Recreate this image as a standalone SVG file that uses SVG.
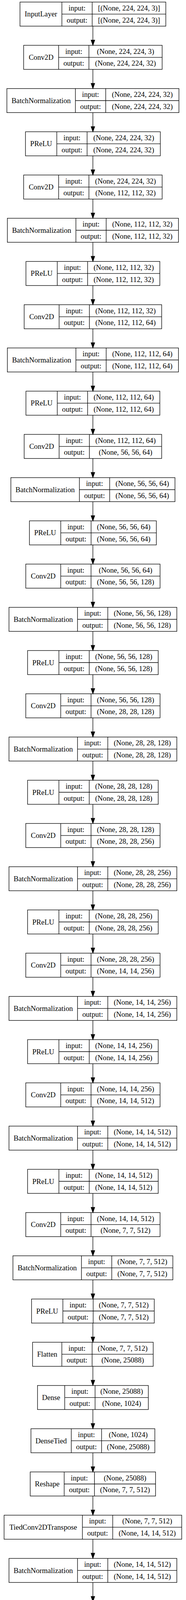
<svg xmlns="http://www.w3.org/2000/svg" width="475" height="7156" viewBox="0 0 475 7156">
<style>
.node rect,.node path{fill:none;stroke:#000;stroke-width:1.33}
text{font-family:"Liberation Serif","Times New Roman",serif;font-size:18.67px;text-anchor:middle;fill:#000}
#edges path{fill:none;stroke:#000;stroke-width:1.33;marker-end:url(#ah)}
</style>
<defs>
<marker id="ah" viewBox="0 0 14 10" refX="0" refY="5" markerWidth="14" markerHeight="10" markerUnits="userSpaceOnUse" orient="auto" overflow="visible"><path d="M0,0.33L13.3,5L0,9.67Z" fill="#000" stroke="#000" stroke-width="1.33"/></marker>
</defs>
<rect width="475" height="7156" fill="#fff"/>
<g id="edges">
<path d="M237.25,66.93V102.70"/><path d="M237.25,177.60V213.37"/><path d="M237.25,288.27V324.04"/><path d="M237.25,398.95V434.72"/>
<path d="M237.25,509.62V545.39"/><path d="M237.25,620.29V656.06"/><path d="M237.25,730.96V766.73"/><path d="M237.25,841.63V877.40"/>
<path d="M237.25,952.31V988.08"/><path d="M237.25,1062.98V1098.75"/><path d="M237.25,1173.65V1209.42"/><path d="M237.25,1284.32V1320.09"/>
<path d="M237.25,1394.99V1430.76"/><path d="M237.25,1505.67V1541.44"/><path d="M237.25,1616.34V1652.11"/><path d="M237.25,1727.01V1762.78"/>
<path d="M237.25,1837.68V1873.45"/><path d="M237.25,1948.35V1984.12"/><path d="M237.25,2059.03V2094.80"/><path d="M237.25,2169.70V2205.47"/>
<path d="M237.25,2280.37V2316.14"/><path d="M237.25,2391.04V2426.81"/><path d="M237.25,2501.71V2537.48"/><path d="M237.25,2612.39V2648.16"/>
<path d="M237.25,2723.06V2758.83"/><path d="M237.25,2833.73V2869.50"/><path d="M237.25,2944.40V2980.17"/><path d="M237.25,3055.07V3090.84"/>
<path d="M237.25,3165.75V3201.52"/><path d="M237.25,3276.42V3312.19"/><path d="M237.25,3387.09V3422.86"/><path d="M237.25,3497.76V3533.53"/>
<path d="M237.25,3608.43V3644.20"/><path d="M237.25,3719.11V3754.88"/><path d="M237.25,3829.78V3865.55"/><path d="M237.25,3940.45V3976.22"/>
<path d="M237.25,4051.12V4086.89"/><path d="M237.25,4161.79V4197.56"/><path d="M237.25,4272.47V4308.24"/><path d="M237.25,4383.14V4418.91"/>
<path d="M237.25,4493.81V4529.58"/><path d="M237.25,4604.48V4640.25"/><path d="M237.25,4715.15V4750.92"/><path d="M237.25,4825.83V4861.60"/>
<path d="M237.25,4936.50V4972.27"/><path d="M237.25,5047.17V5082.94"/><path d="M237.25,5157.84V5193.61"/><path d="M237.25,5268.51V5304.28"/>
<path d="M237.25,5379.19V5414.96"/><path d="M237.25,5489.86V5525.63"/><path d="M237.25,5600.53V5636.30"/><path d="M237.25,5711.20V5746.97"/>
<path d="M237.25,5821.87V5857.64"/><path d="M237.25,5932.55V5968.32"/><path d="M237.25,6043.22V6078.99"/><path d="M237.25,6153.89V6189.66"/>
<path d="M237.25,6264.56V6300.33"/><path d="M237.25,6375.23V6411.00"/><path d="M237.25,6485.91V6521.68"/><path d="M237.25,6596.58V6632.35"/>
<path d="M237.25,6707.25V6743.02"/><path d="M237.25,6817.92V6853.69"/><path d="M237.25,6928.59V6964.36"/><path d="M237.25,7039.27V7075.04"/>
</g>
<g id="n0" class="node" transform="translate(0,5.33)"><rect x="51.05" y="0" width="372.4" height="61.6"/><path d="M158.05,0V61.6M235.45,0V61.6M158.05,30.8H423.45"/><text x="104.55" y="37.1">InputLayer</text><text x="196.75" y="21.6">input:</text><text x="329.45" y="21.6">[(None, 224, 224, 3)]</text><text x="196.75" y="52.3">output:</text><text x="329.45" y="52.3">[(None, 224, 224, 3)]</text></g>
<g id="n1" class="node" transform="translate(0,116.00)"><rect x="60.4" y="0" width="353.7" height="61.6"/><path d="M149.7,0V61.6M227.1,0V61.6M149.7,30.8H414.1"/><text x="105.05" y="37.1">Conv2D</text><text x="188.4" y="21.6">input:</text><text x="320.6" y="21.6">(None, 224, 224, 3)</text><text x="188.4" y="52.3">output:</text><text x="320.6" y="52.3">(None, 224, 224, 32)</text></g>
<g id="n2" class="node" transform="translate(0,226.67)"><rect x="17.55" y="0" width="439.4" height="61.6"/><path d="M192.55,0V61.6M269.95,0V61.6M192.55,30.8H456.95"/><text x="105.05" y="37.1">BatchNormalization</text><text x="231.25" y="21.6">input:</text><text x="363.45" y="21.6">(None, 224, 224, 32)</text><text x="231.25" y="52.3">output:</text><text x="363.45" y="52.3">(None, 224, 224, 32)</text></g>
<g id="n3" class="node" transform="translate(0,337.35)"><rect x="65.05" y="0" width="344.4" height="61.6"/><path d="M145.05,0V61.6M222.45,0V61.6M145.05,30.8H409.45"/><text x="105.05" y="37.1">PReLU</text><text x="183.75" y="21.6">input:</text><text x="315.95" y="21.6">(None, 224, 224, 32)</text><text x="183.75" y="52.3">output:</text><text x="315.95" y="52.3">(None, 224, 224, 32)</text></g>
<g id="n4" class="node" transform="translate(0,448.02)"><rect x="60.4" y="0" width="353.7" height="61.6"/><path d="M149.7,0V61.6M227.1,0V61.6M149.7,30.8H414.1"/><text x="105.05" y="37.1">Conv2D</text><text x="188.4" y="21.6">input:</text><text x="320.6" y="21.6">(None, 224, 224, 32)</text><text x="188.4" y="52.3">output:</text><text x="320.6" y="52.3">(None, 112, 112, 32)</text></g>
<g id="n5" class="node" transform="translate(0,558.69)"><rect x="18.8" y="0" width="436.9" height="61.6"/><path d="M193.8,0V61.6M271.2,0V61.6M193.8,30.8H455.7"/><text x="106.3" y="37.1">BatchNormalization</text><text x="232.5" y="21.6">input:</text><text x="363.45" y="21.6">(None, 112, 112, 32)</text><text x="232.5" y="52.3">output:</text><text x="363.45" y="52.3">(None, 112, 112, 32)</text></g>
<g id="n6" class="node" transform="translate(0,669.36)"><rect x="66.3" y="0" width="341.9" height="61.6"/><path d="M146.3,0V61.6M223.7,0V61.6M146.3,30.8H408.2"/><text x="106.3" y="37.1">PReLU</text><text x="185" y="21.6">input:</text><text x="315.95" y="21.6">(None, 112, 112, 32)</text><text x="185" y="52.3">output:</text><text x="315.95" y="52.3">(None, 112, 112, 32)</text></g>
<g id="n7" class="node" transform="translate(0,780.03)"><rect x="61.65" y="0" width="351.2" height="61.6"/><path d="M150.95,0V61.6M228.35,0V61.6M150.95,30.8H412.85"/><text x="106.3" y="37.1">Conv2D</text><text x="189.65" y="21.6">input:</text><text x="320.6" y="21.6">(None, 112, 112, 32)</text><text x="189.65" y="52.3">output:</text><text x="320.6" y="52.3">(None, 112, 112, 64)</text></g>
<g id="n8" class="node" transform="translate(0,890.71)"><rect x="18.8" y="0" width="436.9" height="61.6"/><path d="M193.8,0V61.6M271.2,0V61.6M193.8,30.8H455.7"/><text x="106.3" y="37.1">BatchNormalization</text><text x="232.5" y="21.6">input:</text><text x="363.45" y="21.6">(None, 112, 112, 64)</text><text x="232.5" y="52.3">output:</text><text x="363.45" y="52.3">(None, 112, 112, 64)</text></g>
<g id="n9" class="node" transform="translate(0,1001.38)"><rect x="66.3" y="0" width="341.9" height="61.6"/><path d="M146.3,0V61.6M223.7,0V61.6M146.3,30.8H408.2"/><text x="106.3" y="37.1">PReLU</text><text x="185" y="21.6">input:</text><text x="315.95" y="21.6">(None, 112, 112, 64)</text><text x="185" y="52.3">output:</text><text x="315.95" y="52.3">(None, 112, 112, 64)</text></g>
<g id="n10" class="node" transform="translate(0,1112.05)"><rect x="61.65" y="0" width="351.2" height="61.6"/><path d="M150.95,0V61.6M228.35,0V61.6M150.95,30.8H412.85"/><text x="106.3" y="37.1">Conv2D</text><text x="189.65" y="21.6">input:</text><text x="320.6" y="21.6">(None, 112, 112, 64)</text><text x="189.65" y="52.3">output:</text><text x="320.6" y="52.3">(None, 56, 56, 64)</text></g>
<g id="n11" class="node" transform="translate(0,1222.72)"><rect x="27.7" y="0" width="419.1" height="61.6"/><path d="M202.7,0V61.6M280.1,0V61.6M202.7,30.8H446.8"/><text x="115.2" y="37.1">BatchNormalization</text><text x="241.4" y="21.6">input:</text><text x="363.45" y="21.6">(None, 56, 56, 64)</text><text x="241.4" y="52.3">output:</text><text x="363.45" y="52.3">(None, 56, 56, 64)</text></g>
<g id="n12" class="node" transform="translate(0,1333.39)"><rect x="75.2" y="0" width="324.1" height="61.6"/><path d="M155.2,0V61.6M232.6,0V61.6M155.2,30.8H399.3"/><text x="115.2" y="37.1">PReLU</text><text x="193.9" y="21.6">input:</text><text x="315.95" y="21.6">(None, 56, 56, 64)</text><text x="193.9" y="52.3">output:</text><text x="315.95" y="52.3">(None, 56, 56, 64)</text></g>
<g id="n13" class="node" transform="translate(0,1444.07)"><rect x="65.8" y="0" width="342.9" height="61.6"/><path d="M155.1,0V61.6M232.5,0V61.6M155.1,30.8H408.7"/><text x="110.45" y="37.1">Conv2D</text><text x="193.8" y="21.6">input:</text><text x="320.6" y="21.6">(None, 56, 56, 64)</text><text x="193.8" y="52.3">output:</text><text x="320.6" y="52.3">(None, 56, 56, 128)</text></g>
<g id="n14" class="node" transform="translate(0,1554.74)"><rect x="22.95" y="0" width="428.6" height="61.6"/><path d="M197.95,0V61.6M275.35,0V61.6M197.95,30.8H451.55"/><text x="110.45" y="37.1">BatchNormalization</text><text x="236.65" y="21.6">input:</text><text x="363.45" y="21.6">(None, 56, 56, 128)</text><text x="236.65" y="52.3">output:</text><text x="363.45" y="52.3">(None, 56, 56, 128)</text></g>
<g id="n15" class="node" transform="translate(0,1665.41)"><rect x="70.45" y="0" width="333.6" height="61.6"/><path d="M150.45,0V61.6M227.85,0V61.6M150.45,30.8H404.05"/><text x="110.45" y="37.1">PReLU</text><text x="189.15" y="21.6">input:</text><text x="315.95" y="21.6">(None, 56, 56, 128)</text><text x="189.15" y="52.3">output:</text><text x="315.95" y="52.3">(None, 56, 56, 128)</text></g>
<g id="n16" class="node" transform="translate(0,1776.08)"><rect x="65.8" y="0" width="342.9" height="61.6"/><path d="M155.1,0V61.6M232.5,0V61.6M155.1,30.8H408.7"/><text x="110.45" y="37.1">Conv2D</text><text x="193.8" y="21.6">input:</text><text x="320.6" y="21.6">(None, 56, 56, 128)</text><text x="193.8" y="52.3">output:</text><text x="320.6" y="52.3">(None, 28, 28, 128)</text></g>
<g id="n17" class="node" transform="translate(0,1886.75)"><rect x="22.95" y="0" width="428.6" height="61.6"/><path d="M197.95,0V61.6M275.35,0V61.6M197.95,30.8H451.55"/><text x="110.45" y="37.1">BatchNormalization</text><text x="236.65" y="21.6">input:</text><text x="363.45" y="21.6">(None, 28, 28, 128)</text><text x="236.65" y="52.3">output:</text><text x="363.45" y="52.3">(None, 28, 28, 128)</text></g>
<g id="n18" class="node" transform="translate(0,1997.43)"><rect x="70.45" y="0" width="333.6" height="61.6"/><path d="M150.45,0V61.6M227.85,0V61.6M150.45,30.8H404.05"/><text x="110.45" y="37.1">PReLU</text><text x="189.15" y="21.6">input:</text><text x="315.95" y="21.6">(None, 28, 28, 128)</text><text x="189.15" y="52.3">output:</text><text x="315.95" y="52.3">(None, 28, 28, 128)</text></g>
<g id="n19" class="node" transform="translate(0,2108.10)"><rect x="65.8" y="0" width="342.9" height="61.6"/><path d="M155.1,0V61.6M232.5,0V61.6M155.1,30.8H408.7"/><text x="110.45" y="37.1">Conv2D</text><text x="193.8" y="21.6">input:</text><text x="320.6" y="21.6">(None, 28, 28, 128)</text><text x="193.8" y="52.3">output:</text><text x="320.6" y="52.3">(None, 28, 28, 256)</text></g>
<g id="n20" class="node" transform="translate(0,2218.77)"><rect x="22.95" y="0" width="428.6" height="61.6"/><path d="M197.95,0V61.6M275.35,0V61.6M197.95,30.8H451.55"/><text x="110.45" y="37.1">BatchNormalization</text><text x="236.65" y="21.6">input:</text><text x="363.45" y="21.6">(None, 28, 28, 256)</text><text x="236.65" y="52.3">output:</text><text x="363.45" y="52.3">(None, 28, 28, 256)</text></g>
<g id="n21" class="node" transform="translate(0,2329.44)"><rect x="70.45" y="0" width="333.6" height="61.6"/><path d="M150.45,0V61.6M227.85,0V61.6M150.45,30.8H404.05"/><text x="110.45" y="37.1">PReLU</text><text x="189.15" y="21.6">input:</text><text x="315.95" y="21.6">(None, 28, 28, 256)</text><text x="189.15" y="52.3">output:</text><text x="315.95" y="52.3">(None, 28, 28, 256)</text></g>
<g id="n22" class="node" transform="translate(0,2440.11)"><rect x="65.8" y="0" width="342.9" height="61.6"/><path d="M155.1,0V61.6M232.5,0V61.6M155.1,30.8H408.7"/><text x="110.45" y="37.1">Conv2D</text><text x="193.8" y="21.6">input:</text><text x="320.6" y="21.6">(None, 28, 28, 256)</text><text x="193.8" y="52.3">output:</text><text x="320.6" y="52.3">(None, 14, 14, 256)</text></g>
<g id="n23" class="node" transform="translate(0,2550.79)"><rect x="22.95" y="0" width="428.6" height="61.6"/><path d="M197.95,0V61.6M275.35,0V61.6M197.95,30.8H451.55"/><text x="110.45" y="37.1">BatchNormalization</text><text x="236.65" y="21.6">input:</text><text x="363.45" y="21.6">(None, 14, 14, 256)</text><text x="236.65" y="52.3">output:</text><text x="363.45" y="52.3">(None, 14, 14, 256)</text></g>
<g id="n24" class="node" transform="translate(0,2661.46)"><rect x="70.45" y="0" width="333.6" height="61.6"/><path d="M150.45,0V61.6M227.85,0V61.6M150.45,30.8H404.05"/><text x="110.45" y="37.1">PReLU</text><text x="189.15" y="21.6">input:</text><text x="315.95" y="21.6">(None, 14, 14, 256)</text><text x="189.15" y="52.3">output:</text><text x="315.95" y="52.3">(None, 14, 14, 256)</text></g>
<g id="n25" class="node" transform="translate(0,2772.13)"><rect x="65.8" y="0" width="342.9" height="61.6"/><path d="M155.1,0V61.6M232.5,0V61.6M155.1,30.8H408.7"/><text x="110.45" y="37.1">Conv2D</text><text x="193.8" y="21.6">input:</text><text x="320.6" y="21.6">(None, 14, 14, 256)</text><text x="193.8" y="52.3">output:</text><text x="320.6" y="52.3">(None, 14, 14, 512)</text></g>
<g id="n26" class="node" transform="translate(0,2882.80)"><rect x="22.95" y="0" width="428.6" height="61.6"/><path d="M197.95,0V61.6M275.35,0V61.6M197.95,30.8H451.55"/><text x="110.45" y="37.1">BatchNormalization</text><text x="236.65" y="21.6">input:</text><text x="363.45" y="21.6">(None, 14, 14, 512)</text><text x="236.65" y="52.3">output:</text><text x="363.45" y="52.3">(None, 14, 14, 512)</text></g>
<g id="n27" class="node" transform="translate(0,2993.47)"><rect x="70.45" y="0" width="333.6" height="61.6"/><path d="M150.45,0V61.6M227.85,0V61.6M150.45,30.8H404.05"/><text x="110.45" y="37.1">PReLU</text><text x="189.15" y="21.6">input:</text><text x="315.95" y="21.6">(None, 14, 14, 512)</text><text x="189.15" y="52.3">output:</text><text x="315.95" y="52.3">(None, 14, 14, 512)</text></g>
<g id="n28" class="node" transform="translate(0,3104.15)"><rect x="65.8" y="0" width="342.9" height="61.6"/><path d="M155.1,0V61.6M232.5,0V61.6M155.1,30.8H408.7"/><text x="110.45" y="37.1">Conv2D</text><text x="193.8" y="21.6">input:</text><text x="320.6" y="21.6">(None, 14, 14, 512)</text><text x="193.8" y="52.3">output:</text><text x="320.6" y="52.3">(None, 7, 7, 512)</text></g>
<g id="n29" class="node" transform="translate(0,3214.82)"><rect x="33.05" y="0" width="408.4" height="61.6"/><path d="M208.05,0V61.6M285.45,0V61.6M208.05,30.8H441.45"/><text x="120.55" y="37.1">BatchNormalization</text><text x="246.75" y="21.6">input:</text><text x="363.45" y="21.6">(None, 7, 7, 512)</text><text x="246.75" y="52.3">output:</text><text x="363.45" y="52.3">(None, 7, 7, 512)</text></g>
<g id="n30" class="node" transform="translate(0,3325.49)"><rect x="80.55" y="0" width="313.4" height="61.6"/><path d="M160.55,0V61.6M237.95,0V61.6M160.55,30.8H393.95"/><text x="120.55" y="37.1">PReLU</text><text x="199.25" y="21.6">input:</text><text x="315.95" y="21.6">(None, 7, 7, 512)</text><text x="199.25" y="52.3">output:</text><text x="315.95" y="52.3">(None, 7, 7, 512)</text></g>
<g id="n31" class="node" transform="translate(0,3436.16)"><rect x="83.2" y="0" width="308.1" height="61.6"/><path d="M157.9,0V61.6M235.3,0V61.6M157.9,30.8H391.3"/><text x="120.55" y="37.1">Flatten</text><text x="196.6" y="21.6">input:</text><text x="313.3" y="21.6">(None, 7, 7, 512)</text><text x="196.6" y="52.3">output:</text><text x="313.3" y="52.3">(None, 25088)</text></g>
<g id="n32" class="node" transform="translate(0,3546.83)"><rect x="95.75" y="0" width="283" height="61.6"/><path d="M165.35,0V61.6M242.75,0V61.6M165.35,30.8H378.75"/><text x="130.55" y="37.1">Dense</text><text x="204.05" y="21.6">input:</text><text x="310.75" y="21.6">(None, 25088)</text><text x="204.05" y="52.3">output:</text><text x="310.75" y="52.3">(None, 1024)</text></g>
<g id="n33" class="node" transform="translate(0,3657.51)"><rect x="79.05" y="0" width="316.4" height="61.6"/><path d="M182.05,0V61.6M259.45,0V61.6M182.05,30.8H395.45"/><text x="130.55" y="37.1">DenseTied</text><text x="220.75" y="21.6">input:</text><text x="327.45" y="21.6">(None, 1024)</text><text x="220.75" y="52.3">output:</text><text x="327.45" y="52.3">(None, 25088)</text></g>
<g id="n34" class="node" transform="translate(0,3768.18)"><rect x="77.2" y="0" width="320.1" height="61.6"/><path d="M163.9,0V61.6M241.3,0V61.6M163.9,30.8H397.3"/><text x="120.55" y="37.1">Reshape</text><text x="202.6" y="21.6">input:</text><text x="319.3" y="21.6">(None, 25088)</text><text x="202.6" y="52.3">output:</text><text x="319.3" y="52.3">(None, 7, 7, 512)</text></g>
<g id="n35" class="node" transform="translate(0,3878.85)"><rect x="10.45" y="0" width="453.6" height="61.6"/><path d="M210.45,0V61.6M287.85,0V61.6M210.45,30.8H464.05"/><text x="110.45" y="37.1">TiedConv2DTranspose</text><text x="249.15" y="21.6">input:</text><text x="375.95" y="21.6">(None, 7, 7, 512)</text><text x="249.15" y="52.3">output:</text><text x="375.95" y="52.3">(None, 14, 14, 512)</text></g>
<g id="n36" class="node" transform="translate(0,3989.52)"><rect x="22.95" y="0" width="428.6" height="61.6"/><path d="M197.95,0V61.6M275.35,0V61.6M197.95,30.8H451.55"/><text x="110.45" y="37.1">BatchNormalization</text><text x="236.65" y="21.6">input:</text><text x="363.45" y="21.6">(None, 14, 14, 512)</text><text x="236.65" y="52.3">output:</text><text x="363.45" y="52.3">(None, 14, 14, 512)</text></g>
<g id="n37" class="node" transform="translate(0,4100.19)"><rect x="70.45" y="0" width="333.6" height="61.6"/><path d="M150.45,0V61.6M227.85,0V61.6M150.45,30.8H404.05"/><text x="110.45" y="37.1">PReLU</text><text x="189.15" y="21.6">input:</text><text x="315.95" y="21.6">(None, 14, 14, 512)</text><text x="189.15" y="52.3">output:</text><text x="315.95" y="52.3">(None, 14, 14, 512)</text></g>
<g id="n38" class="node" transform="translate(0,4210.87)"><rect x="10.45" y="0" width="453.6" height="61.6"/><path d="M210.45,0V61.6M287.85,0V61.6M210.45,30.8H464.05"/><text x="110.45" y="37.1">TiedConv2DTranspose</text><text x="249.15" y="21.6">input:</text><text x="375.95" y="21.6">(None, 14, 14, 512)</text><text x="249.15" y="52.3">output:</text><text x="375.95" y="52.3">(None, 14, 14, 256)</text></g>
<g id="n39" class="node" transform="translate(0,4321.54)"><rect x="22.95" y="0" width="428.6" height="61.6"/><path d="M197.95,0V61.6M275.35,0V61.6M197.95,30.8H451.55"/><text x="110.45" y="37.1">BatchNormalization</text><text x="236.65" y="21.6">input:</text><text x="363.45" y="21.6">(None, 14, 14, 256)</text><text x="236.65" y="52.3">output:</text><text x="363.45" y="52.3">(None, 14, 14, 256)</text></g>
<g id="n40" class="node" transform="translate(0,4432.21)"><rect x="70.45" y="0" width="333.6" height="61.6"/><path d="M150.45,0V61.6M227.85,0V61.6M150.45,30.8H404.05"/><text x="110.45" y="37.1">PReLU</text><text x="189.15" y="21.6">input:</text><text x="315.95" y="21.6">(None, 14, 14, 256)</text><text x="189.15" y="52.3">output:</text><text x="315.95" y="52.3">(None, 14, 14, 256)</text></g>
<g id="n41" class="node" transform="translate(0,4542.88)"><rect x="10.45" y="0" width="453.6" height="61.6"/><path d="M210.45,0V61.6M287.85,0V61.6M210.45,30.8H464.05"/><text x="110.45" y="37.1">TiedConv2DTranspose</text><text x="249.15" y="21.6">input:</text><text x="375.95" y="21.6">(None, 14, 14, 256)</text><text x="249.15" y="52.3">output:</text><text x="375.95" y="52.3">(None, 28, 28, 256)</text></g>
<g id="n42" class="node" transform="translate(0,4653.55)"><rect x="22.95" y="0" width="428.6" height="61.6"/><path d="M197.95,0V61.6M275.35,0V61.6M197.95,30.8H451.55"/><text x="110.45" y="37.1">BatchNormalization</text><text x="236.65" y="21.6">input:</text><text x="363.45" y="21.6">(None, 28, 28, 256)</text><text x="236.65" y="52.3">output:</text><text x="363.45" y="52.3">(None, 28, 28, 256)</text></g>
<g id="n43" class="node" transform="translate(0,4764.23)"><rect x="70.45" y="0" width="333.6" height="61.6"/><path d="M150.45,0V61.6M227.85,0V61.6M150.45,30.8H404.05"/><text x="110.45" y="37.1">PReLU</text><text x="189.15" y="21.6">input:</text><text x="315.95" y="21.6">(None, 28, 28, 256)</text><text x="189.15" y="52.3">output:</text><text x="315.95" y="52.3">(None, 28, 28, 256)</text></g>
<g id="n44" class="node" transform="translate(0,4874.90)"><rect x="10.45" y="0" width="453.6" height="61.6"/><path d="M210.45,0V61.6M287.85,0V61.6M210.45,30.8H464.05"/><text x="110.45" y="37.1">TiedConv2DTranspose</text><text x="249.15" y="21.6">input:</text><text x="375.95" y="21.6">(None, 28, 28, 256)</text><text x="249.15" y="52.3">output:</text><text x="375.95" y="52.3">(None, 28, 28, 128)</text></g>
<g id="n45" class="node" transform="translate(0,4985.57)"><rect x="22.95" y="0" width="428.6" height="61.6"/><path d="M197.95,0V61.6M275.35,0V61.6M197.95,30.8H451.55"/><text x="110.45" y="37.1">BatchNormalization</text><text x="236.65" y="21.6">input:</text><text x="363.45" y="21.6">(None, 28, 28, 128)</text><text x="236.65" y="52.3">output:</text><text x="363.45" y="52.3">(None, 28, 28, 128)</text></g>
<g id="n46" class="node" transform="translate(0,5096.24)"><rect x="70.45" y="0" width="333.6" height="61.6"/><path d="M150.45,0V61.6M227.85,0V61.6M150.45,30.8H404.05"/><text x="110.45" y="37.1">PReLU</text><text x="189.15" y="21.6">input:</text><text x="315.95" y="21.6">(None, 28, 28, 128)</text><text x="189.15" y="52.3">output:</text><text x="315.95" y="52.3">(None, 28, 28, 128)</text></g>
<g id="n47" class="node" transform="translate(0,5206.91)"><rect x="10.45" y="0" width="453.6" height="61.6"/><path d="M210.45,0V61.6M287.85,0V61.6M210.45,30.8H464.05"/><text x="110.45" y="37.1">TiedConv2DTranspose</text><text x="249.15" y="21.6">input:</text><text x="375.95" y="21.6">(None, 28, 28, 128)</text><text x="249.15" y="52.3">output:</text><text x="375.95" y="52.3">(None, 56, 56, 128)</text></g>
<g id="n48" class="node" transform="translate(0,5317.59)"><rect x="22.95" y="0" width="428.6" height="61.6"/><path d="M197.95,0V61.6M275.35,0V61.6M197.95,30.8H451.55"/><text x="110.45" y="37.1">BatchNormalization</text><text x="236.65" y="21.6">input:</text><text x="363.45" y="21.6">(None, 56, 56, 128)</text><text x="236.65" y="52.3">output:</text><text x="363.45" y="52.3">(None, 56, 56, 128)</text></g>
<g id="n49" class="node" transform="translate(0,5428.26)"><rect x="70.45" y="0" width="333.6" height="61.6"/><path d="M150.45,0V61.6M227.85,0V61.6M150.45,30.8H404.05"/><text x="110.45" y="37.1">PReLU</text><text x="189.15" y="21.6">input:</text><text x="315.95" y="21.6">(None, 56, 56, 128)</text><text x="189.15" y="52.3">output:</text><text x="315.95" y="52.3">(None, 56, 56, 128)</text></g>
<g id="n50" class="node" transform="translate(0,5538.93)"><rect x="10.45" y="0" width="453.6" height="61.6"/><path d="M210.45,0V61.6M287.85,0V61.6M210.45,30.8H464.05"/><text x="110.45" y="37.1">TiedConv2DTranspose</text><text x="249.15" y="21.6">input:</text><text x="375.95" y="21.6">(None, 56, 56, 128)</text><text x="249.15" y="52.3">output:</text><text x="375.95" y="52.3">(None, 56, 56, 64)</text></g>
<g id="n51" class="node" transform="translate(0,5649.60)"><rect x="27.7" y="0" width="419.1" height="61.6"/><path d="M202.7,0V61.6M280.1,0V61.6M202.7,30.8H446.8"/><text x="115.2" y="37.1">BatchNormalization</text><text x="241.4" y="21.6">input:</text><text x="363.45" y="21.6">(None, 56, 56, 64)</text><text x="241.4" y="52.3">output:</text><text x="363.45" y="52.3">(None, 56, 56, 64)</text></g>
<g id="n52" class="node" transform="translate(0,5760.27)"><rect x="75.2" y="0" width="324.1" height="61.6"/><path d="M155.2,0V61.6M232.6,0V61.6M155.2,30.8H399.3"/><text x="115.2" y="37.1">PReLU</text><text x="193.9" y="21.6">input:</text><text x="315.95" y="21.6">(None, 56, 56, 64)</text><text x="193.9" y="52.3">output:</text><text x="315.95" y="52.3">(None, 56, 56, 64)</text></g>
<g id="n53" class="node" transform="translate(0,5870.95)"><rect x="6.3" y="0" width="461.9" height="61.6"/><path d="M206.3,0V61.6M283.7,0V61.6M206.3,30.8H468.2"/><text x="106.3" y="37.1">TiedConv2DTranspose</text><text x="245" y="21.6">input:</text><text x="375.95" y="21.6">(None, 56, 56, 64)</text><text x="245" y="52.3">output:</text><text x="375.95" y="52.3">(None, 112, 112, 64)</text></g>
<g id="n54" class="node" transform="translate(0,5981.62)"><rect x="18.8" y="0" width="436.9" height="61.6"/><path d="M193.8,0V61.6M271.2,0V61.6M193.8,30.8H455.7"/><text x="106.3" y="37.1">BatchNormalization</text><text x="232.5" y="21.6">input:</text><text x="363.45" y="21.6">(None, 112, 112, 64)</text><text x="232.5" y="52.3">output:</text><text x="363.45" y="52.3">(None, 112, 112, 64)</text></g>
<g id="n55" class="node" transform="translate(0,6092.29)"><rect x="66.3" y="0" width="341.9" height="61.6"/><path d="M146.3,0V61.6M223.7,0V61.6M146.3,30.8H408.2"/><text x="106.3" y="37.1">PReLU</text><text x="185" y="21.6">input:</text><text x="315.95" y="21.6">(None, 112, 112, 64)</text><text x="185" y="52.3">output:</text><text x="315.95" y="52.3">(None, 112, 112, 64)</text></g>
<g id="n56" class="node" transform="translate(0,6202.96)"><rect x="6.3" y="0" width="461.9" height="61.6"/><path d="M206.3,0V61.6M283.7,0V61.6M206.3,30.8H468.2"/><text x="106.3" y="37.1">TiedConv2DTranspose</text><text x="245" y="21.6">input:</text><text x="375.95" y="21.6">(None, 112, 112, 64)</text><text x="245" y="52.3">output:</text><text x="375.95" y="52.3">(None, 112, 112, 32)</text></g>
<g id="n57" class="node" transform="translate(0,6313.63)"><rect x="18.8" y="0" width="436.9" height="61.6"/><path d="M193.8,0V61.6M271.2,0V61.6M193.8,30.8H455.7"/><text x="106.3" y="37.1">BatchNormalization</text><text x="232.5" y="21.6">input:</text><text x="363.45" y="21.6">(None, 112, 112, 32)</text><text x="232.5" y="52.3">output:</text><text x="363.45" y="52.3">(None, 112, 112, 32)</text></g>
<g id="n58" class="node" transform="translate(0,6424.31)"><rect x="66.3" y="0" width="341.9" height="61.6"/><path d="M146.3,0V61.6M223.7,0V61.6M146.3,30.8H408.2"/><text x="106.3" y="37.1">PReLU</text><text x="185" y="21.6">input:</text><text x="315.95" y="21.6">(None, 112, 112, 32)</text><text x="185" y="52.3">output:</text><text x="315.95" y="52.3">(None, 112, 112, 32)</text></g>
<g id="n59" class="node" transform="translate(0,6534.98)"><rect x="5.05" y="0" width="464.4" height="61.6"/><path d="M205.05,0V61.6M282.45,0V61.6M205.05,30.8H469.45"/><text x="105.05" y="37.1">TiedConv2DTranspose</text><text x="243.75" y="21.6">input:</text><text x="375.95" y="21.6">(None, 112, 112, 32)</text><text x="243.75" y="52.3">output:</text><text x="375.95" y="52.3">(None, 224, 224, 32)</text></g>
<g id="n60" class="node" transform="translate(0,6645.65)"><rect x="17.55" y="0" width="439.4" height="61.6"/><path d="M192.55,0V61.6M269.95,0V61.6M192.55,30.8H456.95"/><text x="105.05" y="37.1">BatchNormalization</text><text x="231.25" y="21.6">input:</text><text x="363.45" y="21.6">(None, 224, 224, 32)</text><text x="231.25" y="52.3">output:</text><text x="363.45" y="52.3">(None, 224, 224, 32)</text></g>
<g id="n61" class="node" transform="translate(0,6756.32)"><rect x="65.05" y="0" width="344.4" height="61.6"/><path d="M145.05,0V61.6M222.45,0V61.6M145.05,30.8H409.45"/><text x="105.05" y="37.1">PReLU</text><text x="183.75" y="21.6">input:</text><text x="315.95" y="21.6">(None, 224, 224, 32)</text><text x="183.75" y="52.3">output:</text><text x="315.95" y="52.3">(None, 224, 224, 32)</text></g>
<g id="n62" class="node" transform="translate(0,6866.99)"><rect x="5.05" y="0" width="464.4" height="61.6"/><path d="M205.05,0V61.6M282.45,0V61.6M205.05,30.8H469.45"/><text x="105.05" y="37.1">TiedConv2DTranspose</text><text x="243.75" y="21.6">input:</text><text x="375.95" y="21.6">(None, 224, 224, 32)</text><text x="243.75" y="52.3">output:</text><text x="375.95" y="52.3">(None, 224, 224, 3)</text></g>
<g id="n63" class="node" transform="translate(0,6977.67)"><rect x="22.95" y="0" width="428.6" height="61.6"/><path d="M197.95,0V61.6M275.35,0V61.6M197.95,30.8H451.55"/><text x="110.45" y="37.1">BatchNormalization</text><text x="236.65" y="21.6">input:</text><text x="363.45" y="21.6">(None, 224, 224, 3)</text><text x="236.65" y="52.3">output:</text><text x="363.45" y="52.3">(None, 224, 224, 3)</text></g>
<g id="n64" class="node" transform="translate(0,7088.34)"><rect x="59.1" y="0" width="356.3" height="61.6"/><path d="M161.8,0V61.6M239.2,0V61.6M161.8,30.8H415.4"/><text x="110.45" y="37.1">Activation</text><text x="200.5" y="21.6">input:</text><text x="327.3" y="21.6">(None, 224, 224, 3)</text><text x="200.5" y="52.3">output:</text><text x="327.3" y="52.3">(None, 224, 224, 3)</text></g>
</svg>
